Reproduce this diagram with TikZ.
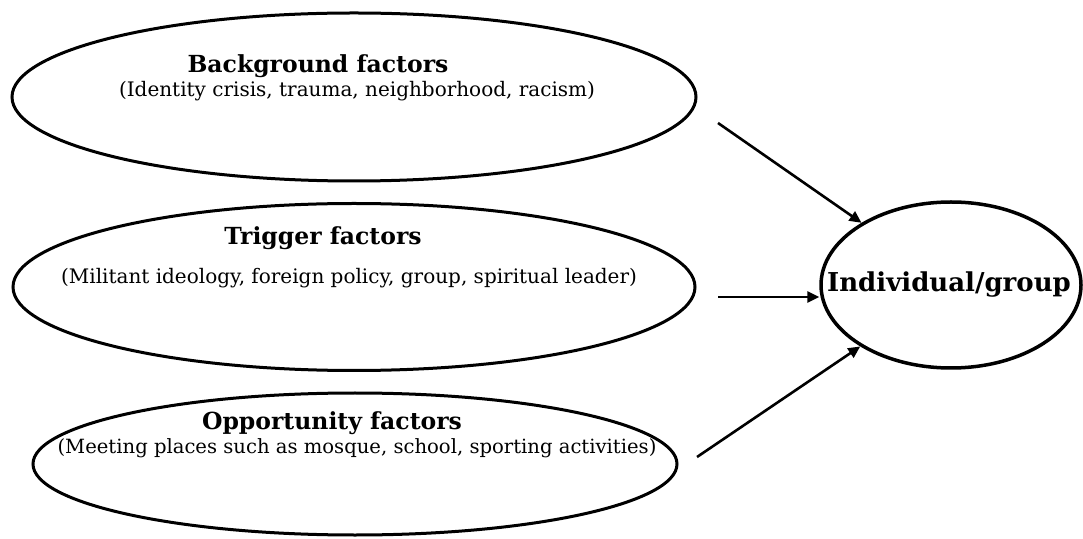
\documentclass[tikz,border=0pt]{standalone}
\usepackage{fontspec}
\setmainfont{DejaVu Serif}
\usepackage{tikz}
\usetikzlibrary{arrows.meta,shapes.geometric}
\tikzset{factor/.style={ellipse,draw,line width=3pt,inner sep=0pt},
  head/.style={anchor=base,font=\fontsize{23.5}{28}\selectfont\bfseries},
  note/.style={anchor=base,font=\fontsize{20}{24}\selectfont},
  arrow/.style={-{Triangle[length=12pt,width=11pt]},line width=2.6pt}}

\begin{document}
\begin{tikzpicture}[x=1pt,y=1pt]
  \path[use as bounding box] (0,0) rectangle (1083,538);
  \node[factor,minimum width=684,minimum height=168] (bg) at (354,441) {};
  \node[factor,minimum width=682,minimum height=167] (trig) at (354,251) {};
  \node[factor,minimum width=644,minimum height=142] (opp) at (355,74) {};
  \node[factor,line width=3.5pt,minimum width=260,minimum height=166] (ind) at (951,253) {};
  \node[head] (bgtitle) at (318,465) {Background factors};
  \node[note] (bgnote) at (357,441) {(Identity crisis, trauma, neighborhood, racism)};
  \node[head] (trigtitle) at (323,293) {Trigger factors};
  \node[note] (trignote) at (349,254) {(Militant ideology, foreign policy, group, spiritual leader)};
  \node[head] (opptitle) at (332,109) {Opportunity factors};
  \node[note,font=\fontsize{19.6}{24}\selectfont] (oppnote) at (357,85) {(Meeting places such as mosque, school, sporting activities)};
  \node[head,font=\fontsize{26}{30}\selectfont\bfseries] (indtitle) at (949,246) {Individual/group};
  \coordinate (s1) at (718,415);
  \coordinate (s2) at (718,241);
  \coordinate (s3) at (697,81);
  \draw[arrow] (s1) -- (ind);
  \draw[arrow] (s2) -- (s2 -| ind.west);
  \draw[arrow] (s3) -- (ind);
\end{tikzpicture}
\end{document}
